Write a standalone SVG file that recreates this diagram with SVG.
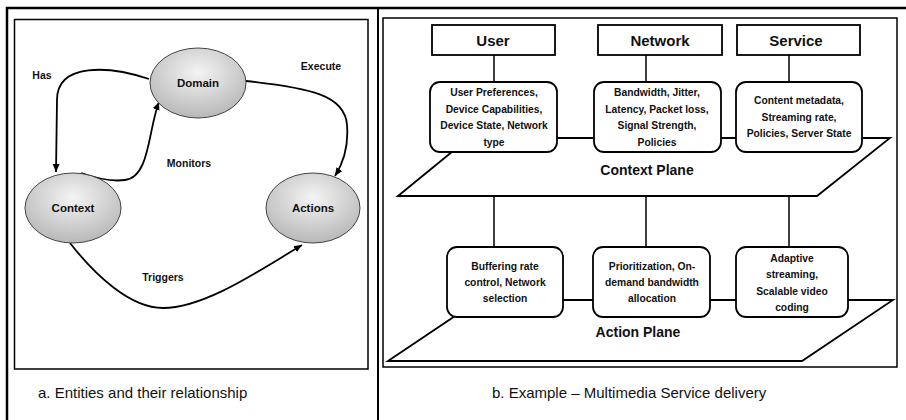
<svg xmlns="http://www.w3.org/2000/svg" width="906" height="420" viewBox="0 0 906 420">
<defs>
<radialGradient id="eg" cx="50%" cy="35%" r="70%">
<stop offset="0" stop-color="#f4f4f4"/>
<stop offset="1" stop-color="#b3b3b3"/>
</radialGradient>
<marker id="ah" markerUnits="userSpaceOnUse" markerWidth="9" markerHeight="8" refX="8" refY="3.5" orient="auto">
<path d="M0,0 L8,3.5 L0,7 z" fill="#000"/>
</marker>
</defs>
<style>
text{font-family:"Liberation Sans",Arial,sans-serif;fill:#111}
.nl{font-size:11.5px;font-weight:bold;text-anchor:middle}
.el{font-size:10.5px;font-weight:bold;text-anchor:middle}
.bt{font-size:10.3px;font-weight:bold;text-anchor:middle}
.ht{font-size:15px;font-weight:bold;text-anchor:middle}
.pl{font-size:14px;font-weight:bold;text-anchor:middle}
.cap{font-size:15px}
.ell{fill:url(#eg);stroke:#444;stroke-width:1}
.edge{fill:none;stroke:#000;stroke-width:1.8;marker-end:url(#ah)}
.box{fill:#fff;stroke:#000;stroke-width:1.8}
.ln{stroke:#000;stroke-width:1.5;fill:none}
.frame{fill:none;stroke:#000;stroke-width:1.5}
</style>
<rect width="906" height="420" fill="#fff"/>
<g id="frames">
<path d="M7,420 L7,8 L906,8" fill="none" stroke="#000" stroke-width="2.5"/>
<line x1="378" y1="8" x2="378" y2="420" stroke="#000" stroke-width="2"/>
<rect class="frame" x="14.5" y="19.5" width="353.5" height="349.5"/>
<rect class="frame" x="383" y="18" width="514" height="349"/>
</g>
<g id="connectors-a">
<path class="edge" d="M149,79 C110,66 57,62 57,100 L56,172"/>
<path class="edge" d="M81,173 C95,178 110,182 125,180 C150,177 148,130 159,102"/>
<path class="edge" d="M246,81 C310,88 345,95 347,125 C349,150 342,165 335,176"/>
<path class="edge" d="M70,243 C95,275 130,308 163,308 C205,308 260,270 302,245"/>
<text class="el" x="42" y="79">Has</text>
<text class="el" x="321" y="70">Execute</text>
<text class="el" x="189" y="167">Monitors</text>
<text class="el" x="163" y="281">Triggers</text>
</g>
<g id="domain">
<ellipse class="ell" cx="198" cy="83" rx="48" ry="35"/>
<text class="nl" x="198" y="87">Domain</text>
</g>
<g id="context">
<ellipse class="ell" cx="73" cy="208" rx="48" ry="35"/>
<text class="nl" x="73" y="212">Context</text>
</g>
<g id="actions">
<ellipse class="ell" cx="313" cy="208" rx="47" ry="35"/>
<text class="nl" x="313" y="212">Actions</text>
</g>
<text class="cap" x="38" y="398">a. Entities and their relationship</text>
<g id="connectors-b">
<line class="ln" x1="494" y1="55" x2="494" y2="82"/>
<line class="ln" x1="646" y1="55" x2="646" y2="82"/>
<line class="ln" x1="789" y1="55" x2="789" y2="82"/>
<line class="ln" x1="494" y1="196" x2="494" y2="247"/>
<line class="ln" x1="646" y1="196" x2="646" y2="247"/>
<line class="ln" x1="789" y1="196" x2="789" y2="247"/>
</g>
<g id="context-plane">
<polygon points="398,196 469,138 890,138 817,196" fill="#fff" stroke="#000" stroke-width="1.8"/>
<text class="pl" x="647" y="175">Context Plane</text>
</g>
<g id="action-plane">
<polygon points="388,361 479,300 893,300 802,361" fill="#fff" stroke="#000" stroke-width="1.8"/>
<text class="pl" x="638" y="337">Action Plane</text>
</g>
<g id="user">
<rect class="box" x="432" y="25" width="123" height="30"/>
<text class="ht" x="493" y="45.5">User</text>
</g>
<g id="network">
<rect class="box" x="598" y="25" width="124" height="30"/>
<text class="ht" x="660" y="45.5">Network</text>
</g>
<g id="service">
<rect class="box" x="737" y="25" width="123" height="30"/>
<text class="ht" x="796" y="45.5">Service</text>
</g>
<g id="user-context">
<rect class="box" x="430" y="82" width="127" height="70" rx="10"/>
<text class="bt" x="494" y="96">User Preferences,</text>
<text class="bt" x="494" y="112.5">Device Capabilities,</text>
<text class="bt" x="494" y="129">Device State, Network</text>
<text class="bt" x="494" y="145.5">type</text>
</g>
<g id="network-context">
<rect class="box" x="594" y="82" width="127" height="70" rx="10"/>
<text class="bt" x="657" y="96">Bandwidth, Jitter,</text>
<text class="bt" x="657" y="112.5">Latency, Packet loss,</text>
<text class="bt" x="657" y="129">Signal Strength,</text>
<text class="bt" x="657" y="145.5">Policies</text>
</g>
<g id="service-context">
<rect class="box" x="736" y="82" width="126" height="70" rx="10"/>
<text class="bt" x="799" y="104">Content metadata,</text>
<text class="bt" x="799" y="120.5">Streaming rate,</text>
<text class="bt" x="799" y="137">Policies, Server State</text>
</g>
<g id="buffering">
<rect class="box" x="447" y="247" width="116" height="70" rx="10"/>
<text class="bt" x="505" y="270">Buffering rate</text>
<text class="bt" x="505" y="286">control, Network</text>
<text class="bt" x="505" y="302">selection</text>
</g>
<g id="prioritization">
<rect class="box" x="593" y="247" width="117" height="70" rx="10"/>
<text class="bt" x="652" y="270">Prioritization, On-</text>
<text class="bt" x="652" y="286">demand bandwidth</text>
<text class="bt" x="652" y="302">allocation</text>
</g>
<g id="adaptive">
<rect class="box" x="736" y="247" width="112" height="70" rx="10"/>
<text class="bt" x="792" y="262">Adaptive</text>
<text class="bt" x="792" y="278">streaming,</text>
<text class="bt" x="792" y="294.5">Scalable video</text>
<text class="bt" x="792" y="311">coding</text>
</g>
<text class="cap" x="492" y="398">b. Example – Multimedia Service delivery</text>
</svg>
